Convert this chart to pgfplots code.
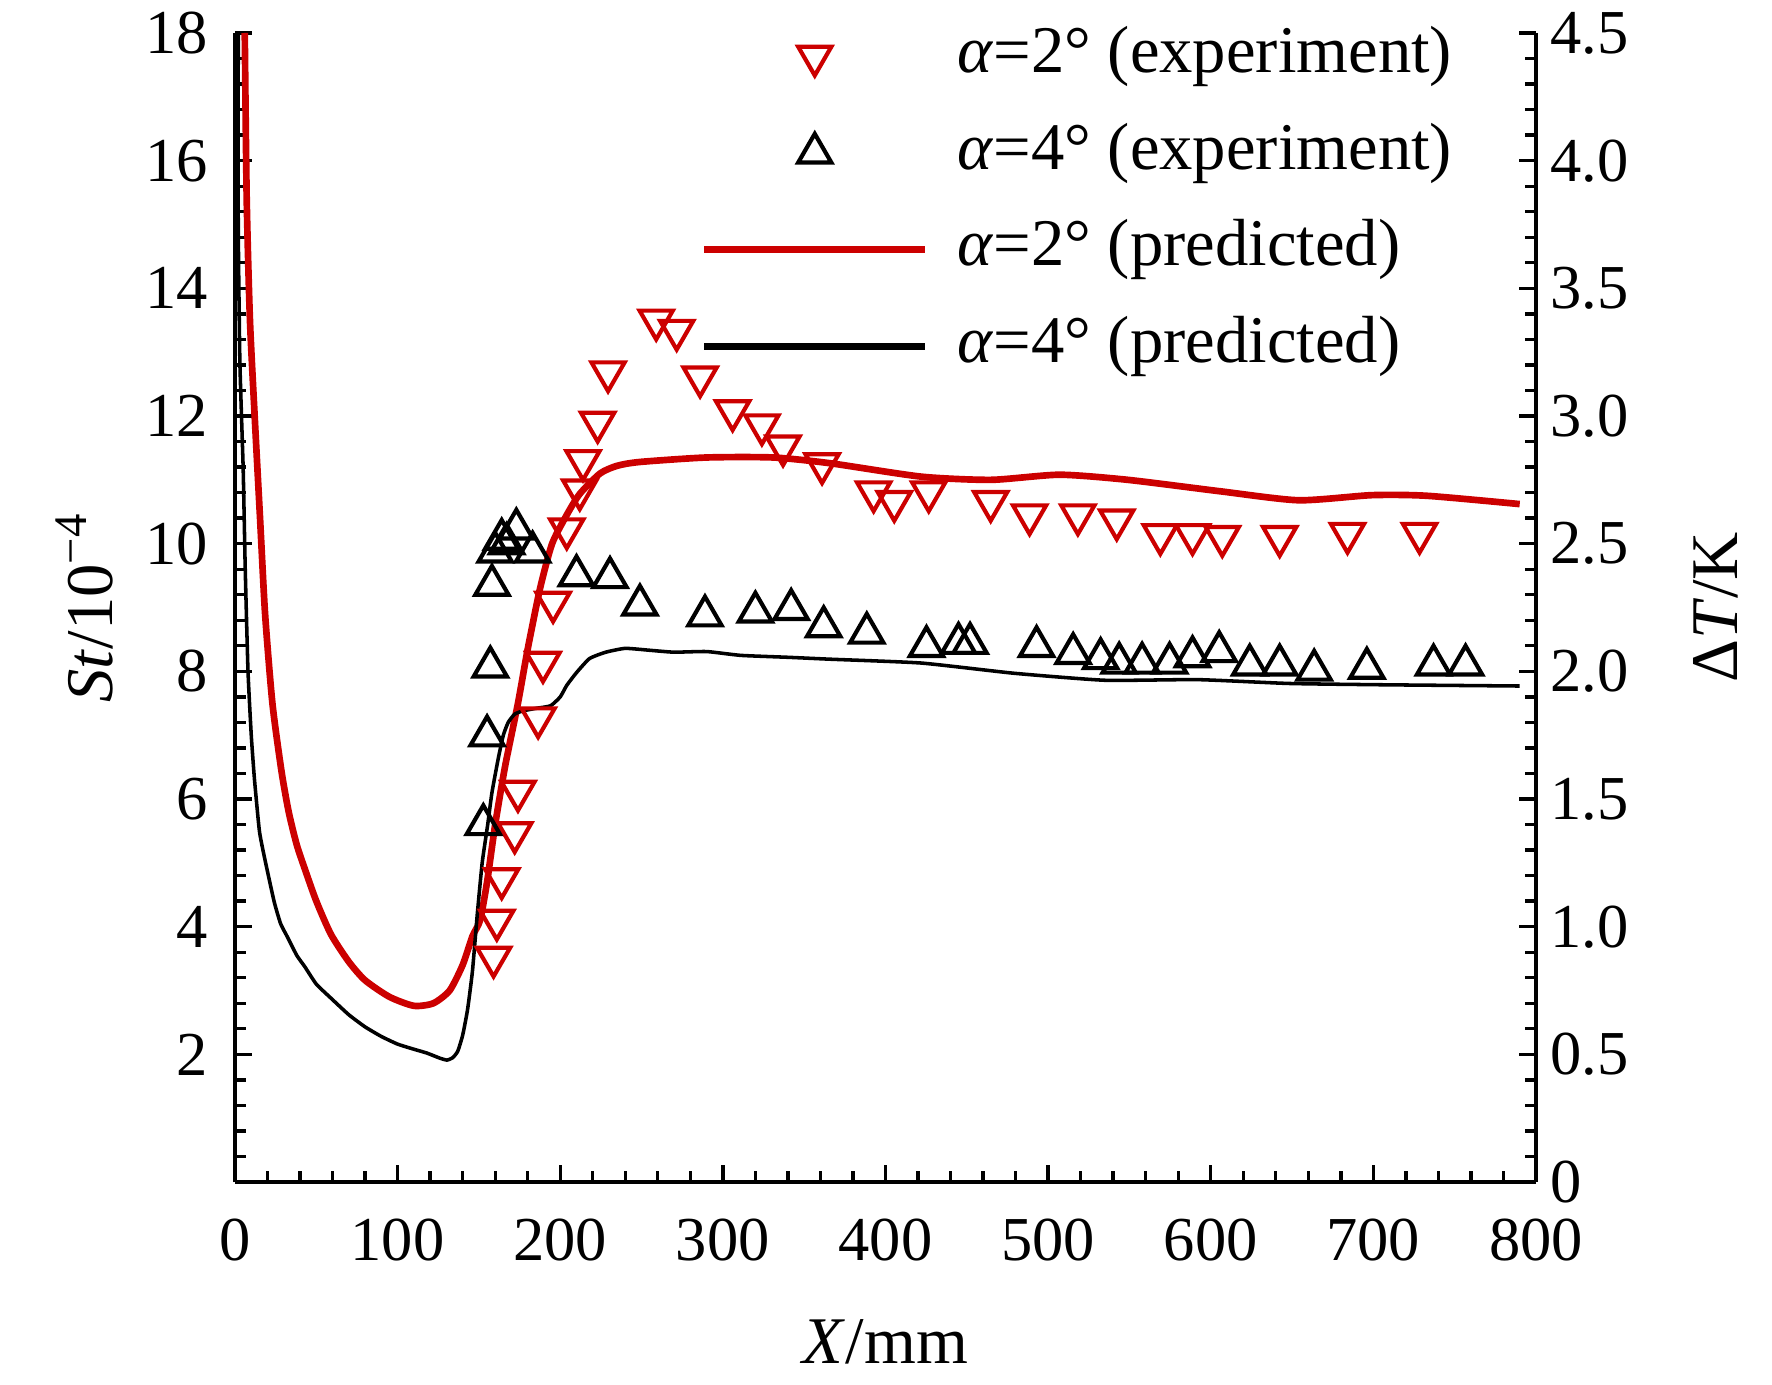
\documentclass[border=0pt]{standalone}
\usepackage{fontspec}
\setmainfont{Liberation Serif}
\usepackage{pgfplots}
\pgfplotsset{compat=1.18}
\definecolor{myred}{RGB}{204,0,0}

\begin{document}
\begin{tikzpicture}
\begin{axis}[
  at={(0,0)}, anchor=south west,
  scale only axis, width=312.24pt, height=275.76pt,
  xmin=0, xmax=800, ymin=0, ymax=18,
  axis x line*=bottom, axis y line*=left,
  axis line style={line width=0.8pt, -},
  tick align=inside,
  xtick={0,100,...,800},
  ytick={0,2,...,18},
  yticklabels={{},2,4,6,8,10,12,14,16,18},
  minor x tick num=4, minor y tick num=4,
  major tick length=4.2pt, minor tick length=2.6pt,
  every tick/.style={black, line width=0.8pt},
  /pgf/number format/assume math mode=true,
  tick label style={font=\fontsize{15}{18}\selectfont},
  xticklabel style={yshift=-5.4pt},
  yticklabel style={xshift=-3pt},
  xlabel={\textit{X}/mm},
  ylabel={\textit{St}/10\textsuperscript{−4}},
  label style={font=\fontsize{16}{19}\selectfont},
  xlabel style={at={(axis description cs:0.5,-0.139)}, anchor=center},
  ylabel style={at={(axis description cs:-0.116,0.5)}, anchor=center},
  legend image code/.code={\draw[mark repeat=2,mark phase=2,#1] plot coordinates {(0pt,0pt) (26.5pt,0pt) (53pt,0pt)}; \path (59.9pt,0pt);},
  legend style={draw=none, fill=none, inner sep=0pt, at={(0.3574,1.008)}, anchor=north west,
    font=\fontsize{16}{19}\selectfont, row sep=8pt,
    nodes={inner sep=0pt, text height=11.5pt, text depth=3.7pt}},
  legend cell align=left,
]
\addlegendimage{only marks, mark=triangle, mark size=4.6pt, mark options={myred, line width=1pt, rotate=180}}
\addlegendentry{\textit{α}=2° (experiment)}
\addlegendimage{only marks, mark=triangle, mark size=4.6pt, mark options={black, line width=1pt}}
\addlegendentry{\textit{α}=4° (experiment)}
\addlegendimage{myred, line width=1.7pt, no marks}
\addlegendentry{\textit{α}=2° (predicted)}
\addlegendimage{black, line width=1.7pt, no marks}
\addlegendentry{\textit{α}=4° (predicted)}

% alpha=2 predicted
\addplot[myred, line width=1.6pt, no marks, smooth, tension=0.4, forget plot] coordinates {
(6,18) (7.2,15.4) (9.2,13.5) (12.3,11.9) (15.4,10.4) (18.5,8.9) (23,7.5) (28.5,6.45)
(33,5.8) (38,5.28) (43,4.9) (50,4.4) (59,3.88) (70,3.45) (80,3.16) (95,2.9)
(110,2.76) (122,2.8) (132,3.0) (140,3.4) (146,3.85) (150.7,4.1) (155,4.7) (160,5.6)
(166,6.5) (174,7.5) (180,8.35) (187.6,9.3) (195,10.0) (204,10.45) (212,10.78)
(224.5,11.1) (235,11.22) (249,11.28) (290,11.35) (331,11.35) (366,11.26) (422,11.05)
(465,11.0) (507,11.08) (549,11.0) (606,10.82) (654,10.68) (699,10.76) (733,10.75) (790,10.62)
};
% alpha=4 predicted
\addplot[black, line width=0.85pt, no marks, smooth, tension=0.3, forget plot] coordinates {
(2,18) (2,15) (3,12.85) (5,11.2) (6.3,9.6) (8,8.0) (10,7.0) (12,6.3) (15,5.5) (18,5.1)
(24,4.4) (28,4.05) (32,3.85) (38,3.55) (43,3.37) (50,3.1) (59,2.88) (70,2.62) (80,2.43)
(90,2.28) (100,2.16) (110,2.08) (118,2.02) (126,1.94) (130.4,1.91) (134,1.95) (137,2.05)
(140,2.3) (143,2.7) (146,3.3) (149,4.2) (152,5.0) (155.4,5.6) (158,6.1) (162,6.65)
(165,7.0) (168,7.2) (172,7.33) (177,7.38) (185,7.42) (194,7.46) (200,7.6) (204,7.78)
(210,7.98) (218,8.2) (228,8.3) (240,8.36) (255,8.33) (270,8.3) (290,8.31) (311,8.25)
(340,8.22) (366,8.19) (422,8.13) (479,7.97) (535,7.86) (592,7.87) (648,7.81) (704,7.79) (790,7.77)
};
% alpha=2 experiment
\addplot[only marks, mark=triangle, mark size=4.6pt, mark options={myred, line width=1pt, rotate=180}, forget plot] coordinates {
(159,3.52) (161,4.1) (164,4.75) (172,5.47) (174,6.12) (186.4,7.27) (189.4,8.14) (195.6,9.08)
(204,10.23) (212,10.84) (214,11.3) (223,11.9) (229.4,12.69) (259,13.5) (271.6,13.34)
(286,12.61) (306,12.08) (324,11.86) (337,11.53) (361,11.25) (392.7,10.81) (405.4,10.66)
(426.6,10.81) (464.7,10.66) (488.6,10.45) (518.3,10.45) (542.2,10.37) (569,10.14)
(588.8,10.14) (607.1,10.11) (642.4,10.11) (684.1,10.16) (728.4,10.16)
};
% alpha=4 experiment
\addplot[only marks, mark=triangle, mark size=4.6pt, mark options={black, line width=1pt}, forget plot] coordinates {
(152.7,5.6) (155,6.99) (157,8.07) (158,9.35) (160,9.87) (164,10.07) (167,10.0) (173,10.23)
(183,9.87) (210,9.5) (230.6,9.47) (249,9.04) (289,8.87) (320,8.93) (342,8.97) (362,8.7)
(388.5,8.6) (425.2,8.39) (444.9,8.44) (452,8.44) (492.9,8.39) (515.4,8.28) (532.3,8.2)
(543.7,8.13) (557.8,8.13) (574.7,8.13) (588.8,8.23) (605.2,8.31) (624,8.1) (642.4,8.1)
(663.6,8.02) (696,8.05) (737,8.1) (756.7,8.1)
};
\end{axis}

\begin{axis}[
  at={(0,0)}, anchor=south west,
  scale only axis, width=312.24pt, height=275.76pt,
  xmin=0, xmax=800, ymin=0, ymax=4.5,
  axis y line*=right, axis x line=none,
  axis line style={line width=0.8pt, -},
  tick align=inside,
  ytick={0,0.5,1,1.5,2,2.5,3,3.5,4,4.5},
  yticklabels={0,0.5,1.0,1.5,2.0,2.5,3.0,3.5,4.0,4.5},
  minor y tick num=4,
  major tick length=4.2pt, minor tick length=2.6pt,
  every tick/.style={black, line width=0.8pt},
  /pgf/number format/assume math mode=true,
  tick label style={font=\fontsize{15}{18}\selectfont},
  yticklabel style={xshift=0pt},
  ylabel={Δ\textit{T}/K},
  label style={font=\fontsize{16}{19}\selectfont},
  ylabel style={at={(axis description cs:1.138,0.5)}, anchor=center, rotate=0},
]
\end{axis}
\pgfresetboundingbox
\useasboundingbox (-56.4pt,-48.48pt) rectangle (368.88pt,283.68pt);
\end{tikzpicture}
\end{document}
